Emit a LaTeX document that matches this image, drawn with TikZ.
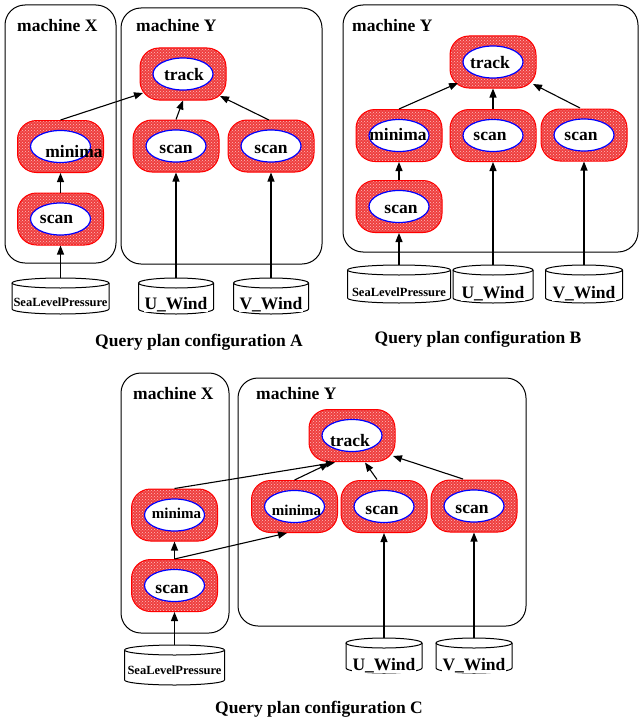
\documentclass[tikz,border=0pt]{standalone}
\usepackage{fontspec}
\setmainfont{Liberation Serif}
\usetikzlibrary{patterns,calc,arrows.meta}
\definecolor{opred}{RGB}{238,62,62}
\definecolor{opdot}{RGB}{255,190,190}
\tikzset{
 opbox/.style={rectangle, rounded corners=19pt, minimum width=86pt, minimum height=52pt,
   inner sep=0pt, draw=red, line width=1pt, preaction={fill=opred},
   pattern=crosshatch dots, pattern color=opdot,
   path picture={\draw[blue, line width=1.2pt, fill=white] (path picture bounding box.center) ellipse[x radius=30pt, y radius=16pt];}},
 optext/.style={anchor=base, inner sep=0pt},
 machbox/.style={draw, line width=1pt, rounded corners=20pt, inner sep=0pt},
 bigfont/.style={font=\fontsize{17.5}{20}\selectfont\bfseries},
 machlabel/.style={anchor=base west, inner sep=0pt, bigfont},
 caption/.style={anchor=base, inner sep=0pt, bigfont},
 arr/.style={-{Triangle[length=9pt,width=7pt]}, line width=1.1pt},
 cyl/.style={draw, line width=1pt, fill=white},
}
% name, x, y, text, dx, dy, font size
\newcommand\opn[7]{%
  \node[opbox] (#1) at (#2,#3) {};
  \node[optext, font=\fontsize{#7}{#7}\selectfont\bfseries] (#1-t) at ($(#1)+(#5,#6)$) {#4};
}
% name, cx, ytop, ybot, width, font size, baseline, text
\newcommand\dbcyl[8]{%
  \pgfmathsetmacro\cylr{#5/2}%
  \draw[cyl] (#2-\cylr,#3+5) -- (#2-\cylr,#4-5) arc[start angle=180, end angle=0, x radius=\cylr, y radius=5] -- (#2+\cylr,#3+5);
  \draw[cyl] (#2,#3+5) ellipse[x radius=\cylr, y radius=5];
  \coordinate (#1-top) at (#2,#3);
  \node[anchor=base, inner sep=0.5pt, fill=white, font=\fontsize{#6}{#6}\selectfont\bfseries] (#1) at (#2,#7) {#8};
}
\begin{document}
\begin{tikzpicture}[x=1pt,y=-1pt]
\useasboundingbox (0,0) rectangle (639,717);

% ===== configuration A =====
\node[machbox, minimum width=111pt, minimum height=258pt] (mxA) at (60.5,134) {};
\node[machbox, minimum width=201pt, minimum height=256pt] (myA) at (221.5,136) {};
\node[machlabel] (lxA) at (17,32) {machine X};
\node[machlabel] (lyA) at (136,32) {machine Y};
\opn{trA}{183}{74}{track}{1}{6}{17.5}
\opn{miXA}{60.5}{146.5}{minima}{13.5}{10.5}{17.5}
\opn{scXA}{60.5}{219}{scan}{-4}{4}{17.5}
\opn{scYA1}{176}{146}{scan}{0}{7}{17.5}
\opn{scYA2}{271}{146}{scan}{0}{7}{17.5}
\dbcyl{slpA}{60.5}{278}{314}{97}{12.5}{306}{SeaLevelPressure}
\dbcyl{uA}{176}{278}{314}{75}{17.5}{309}{U\_Wind}
\dbcyl{vA}{271}{278}{314}{75}{17.5}{309}{V\_Wind}
\draw[arr] (slpA-top) -- (scXA.south);
\draw[arr] (scXA.north) -- (miXA.south);
\draw[arr] (miXA.north) -- ($(trA)+(-40,19)$);
\draw[arr] (scYA1.north) -- (trA.south);
\draw[arr] ($(scYA2)+(-2,-26)$) -- ($(trA)+(37,22)$);
\draw[arr] (uA-top) -- (scYA1.south);
\draw[arr] (vA-top) -- (scYA2.south);
\node[caption] (capA) at (199,346) {Query plan configuration A};

% ===== configuration B =====
\node[machbox, minimum width=295pt, minimum height=247pt] (myB) at (490.5,128.5) {};
\node[machlabel] (lyB) at (352,32) {machine Y};
\opn{trB}{493}{62}{track}{-3}{6}{17.5}
\opn{miB}{399}{135.5}{minima}{-1}{4.5}{17.5}
\opn{scB1}{493}{135.5}{scan}{-3}{4.5}{17.5}
\opn{scB2}{584}{135}{scan}{-3}{5}{17.5}
\opn{scB3}{399}{206.5}{scan}{2}{6.5}{17.5}
\dbcyl{slpB}{399}{265}{303}{103}{12.5}{296}{SeaLevelPressure}
\dbcyl{uB}{493}{265}{303}{80}{17.5}{298}{U\_Wind}
\dbcyl{vB}{584}{265}{303}{77}{17.5}{298}{V\_Wind}
\draw[arr] (slpB-top) -- (scB3.south);
\draw[arr] (scB3.north) -- (miB.south);
\draw[arr] (miB.north) -- ($(trB)+(-35,21)$);
\draw[arr] (scB1.north) -- (trB.south);
\draw[arr] ($(scB2)+(-4,-27)$) -- ($(trB)+(40,22)$);
\draw[arr] (uB-top) -- (scB1.south);
\draw[arr] (vB-top) -- (scB2.south);
\node[caption] (capB) at (478,343) {Query plan configuration B};

% ===== configuration C =====
\node[machbox, minimum width=108pt, minimum height=260pt] (mxC) at (175,503) {};
\node[machbox, minimum width=288pt, minimum height=248pt] (myC) at (382,502) {};
\node[machlabel] (lxC) at (133,399) {machine X};
\node[machlabel] (lyC) at (256,399) {machine Y};
\opn{trC}{352}{435.5}{track}{-2}{10.5}{17.5}
\opn{miXC}{174.5}{515}{minima}{2}{3}{15}
\opn{scXC}{174.5}{585.5}{scan}{-2.5}{7.5}{17.5}
\opn{miYC}{294.5}{506.5}{minima}{2}{8.5}{15}
\opn{scYC1}{384}{506.5}{scan}{-2}{7.5}{17.5}
\opn{scYC2}{474}{506}{scan}{-2}{7}{17.5}
\dbcyl{slpC}{174.5}{645}{685}{100}{12.5}{674}{SeaLevelPressure}
\dbcyl{uC}{384}{638}{673}{76}{17.5}{670}{U\_Wind}
\dbcyl{vC}{474}{638}{673}{76}{17.5}{670}{V\_Wind}
\draw[arr] (slpC-top) -- (scXC.south);
\draw[arr] (scXC.north) -- (miXC.south);
\draw[arr] (scXC.north) -- ($(miYC)+(-7.5,26.5)$);
\draw[arr] (miXC.north) -- ($(trC)+(-17,27)$);
\draw[arr] (miYC.north) -- ($(trC)+(-23,28)$);
\draw[arr] ($(scYC1)+(-7,-27)$) -- ($(trC)+(13,27)$);
\draw[arr] ($(scYC2)+(-11,-27)$) -- ($(trC)+(41,20.5)$);
\draw[arr] (uC-top) -- (scYC1.south);
\draw[arr] (vC-top) -- (scYC2.south);
\node[caption] (capC) at (319,713) {Query plan configuration C};
\end{tikzpicture}
\end{document}
